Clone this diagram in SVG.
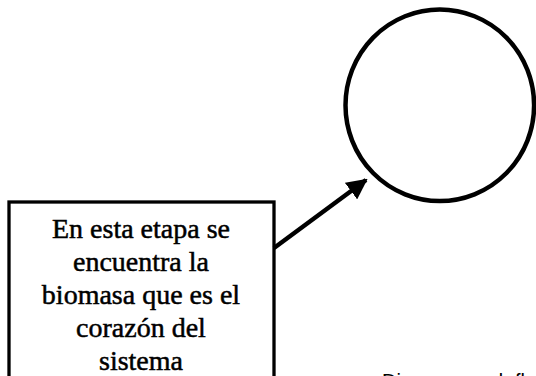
<svg xmlns="http://www.w3.org/2000/svg" width="536" height="376" viewBox="0 0 536 376">
<style>
.shape{fill:#fff;stroke:#000}
.lbl{font-family:"Liberation Serif","Times New Roman",serif;font-size:28px;fill:#000;stroke:#000;stroke-width:0.5;text-anchor:middle}
.cap{font-family:"Liberation Sans",Arial,sans-serif;font-size:20px;fill:#000}
.conn{stroke:#000;stroke-width:4.5;fill:none}
</style>
<defs>
<marker id="ah" viewBox="0 0 10 10" refX="9" refY="5" markerWidth="4.6" markerHeight="4.6" markerUnits="strokeWidth" orient="auto">
<path d="M0,0 L10,5 L0,10 z" fill="#000"/>
</marker>
</defs>
<rect width="536" height="376" fill="#fff"/>
<g id="node-circle">
<ellipse class="shape" cx="439.8" cy="105.3" rx="94.3" ry="95.8" stroke-width="4.5"/>
</g>
<g id="node-box">
<rect class="shape" x="9" y="202" width="265" height="200" stroke-width="3.3"/>
<text class="lbl" x="141" y="238">En esta etapa se</text>
<text class="lbl" x="141" y="271">encuentra la</text>
<text class="lbl" x="141" y="304">biomasa que es el</text>
<text class="lbl" x="141" y="337">corazón del</text>
<text class="lbl" x="141" y="370">sistema</text>
</g>
<g id="connectors">
<line class="conn" x1="274" y1="248" x2="366" y2="180" marker-end="url(#ah)"/>
</g>
<g id="caption">
<text class="cap" y="388"><tspan x="382">Diagrama</tspan><tspan x="492">de</tspan><tspan x="515">flujo</tspan></text>
</g>
</svg>
